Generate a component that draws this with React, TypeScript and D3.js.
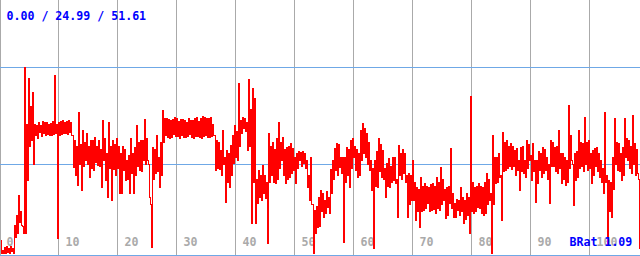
import React from "react";
import * as d3 from "d3";

// Bitrate samples, one reading every 2 px of the 640 px plot (the extreme seen in that column)
const seriesValues: number[] = [
  // 0-38
  4.1, 1.4, 2.2, 0.8, 1.9, 1.1, 1.9, 8.2, 11.0, 16.5, 8.2, 6.0, 51.6, 20.6, 48.6, 31.6, 44.7, 32.9, 35.7, 33.8,
  // 40-78
  35.7, 33.5, 36.5, 33.2, 35.9, 32.9, 36.8, 49.4, 4.7, 36.5, 33.2, 37.1, 33.5, 36.8, 33.8, 36.5, 24.2, 31.6, 19.2, 39.3,
  // 80-118
  17.8, 34.3, 26.1, 33.5, 21.4, 31.6, 23.3, 32.4, 24.7, 31.6, 18.7, 37.1, 20.6, 15.9, 36.5, 15.1, 31.6, 22.0, 32.1, 17.0,
  // 120-158
  17.0, 23.3, 20.6, 26.1, 17.0, 32.1, 17.0, 29.6, 35.7, 23.3, 31.6, 26.1, 37.3, 26.1, 15.9, 2.2, 29.6, 22.5, 32.9, 18.7,
  // 160-198
  22.0, 39.8, 32.9, 37.6, 32.1, 37.1, 33.2, 37.9, 32.6, 36.8, 32.9, 37.3, 32.4, 36.5, 33.2, 37.1, 32.1, 37.6, 32.6, 36.8,
  // 200-238
  32.1, 38.2, 32.9, 37.6, 32.4, 37.9, 32.9, 23.3, 31.6, 23.6, 28.8, 34.3, 14.5, 28.8, 18.7, 30.2, 25.3, 35.7, 26.1, 47.2,
  // 240-278
  37.1, 34.9, 37.6, 28.8, 48.3, 8.8, 45.8, 8.8, 14.3, 23.3, 15.1, 24.7, 15.6, 3.3, 33.5, 22.0, 31.0, 19.8, 32.1, 36.5,
  // 280-318
  26.1, 32.4, 19.8, 29.6, 21.4, 30.7, 23.3, 19.8, 28.0, 26.1, 28.3, 25.3, 28.0, 18.7, 15.1, 26.9, 0.5, 12.4, 7.7, 15.9,
  // 320-358
  17.8, 10.4, 15.1, 13.2, 15.9, 17.0, 26.1, 23.3, 30.7, 24.2, 26.9, 3.6, 26.9, 29.6, 18.7, 31.6, 26.9, 23.3, 21.4, 28.0,
  // 360-398
  34.3, 36.2, 26.9, 33.5, 23.3, 17.8, 1.9, 26.1, 18.7, 32.1, 21.4, 28.8, 15.9, 25.2, 18.7, 24.3, 26.9, 19.7, 10.4, 30.2,
  // 400-438
  28.0, 22.5, 28.0, 10.4, 22.5, 15.1, 26.1, 9.6, 18.7, 7.7, 21.4, 12.4, 19.7, 14.3, 18.7, 12.4, 19.7, 11.5, 21.4, 12.4,
  // 440-478
  24.2, 15.1, 10.1, 18.7, 14.3, 29.4, 10.4, 14.3, 12.4, 15.1, 18.7, 8.8, 15.1, 17.0, 6.0, 43.6, 11.5, 18.7, 13.2, 19.7,
  // 480-518
  11.5, 18.7, 11.5, 22.5, 15.1, 0.5, 32.9, 19.7, 26.9, 21.4, 9.6, 33.8, 23.3, 31.6, 24.3, 30.7, 24.3, 28.8, 23.3, 17.8,
  // 520-558
  29.6, 22.5, 26.1, 31.6, 26.1, 20.6, 30.7, 14.5, 19.7, 23.3, 21.4, 29.6, 23.3, 26.9, 14.3, 31.6, 24.3, 29.6, 22.5, 34.3,
  // 560-598
  19.7, 27.9, 19.2, 26.1, 41.2, 26.1, 13.7, 27.9, 21.5, 34.3, 24.3, 30.7, 37.9, 23.3, 31.6, 19.7, 28.8, 24.3, 29.7, 21.5,
  // 600-640
  26.1, 17.0, 39.3, 2.7, 20.6, 10.4, 26.9, 37.6, 23.3, 30.7, 20.6, 29.7, 37.6, 26.1, 31.6, 22.5, 38.4, 30.7, 22.5, 1.9, 0.5,
];

// The opposite extreme read in the same 2 px column
const seriesOther: number[] = [
  // 0-38
  0.5, 0.5, 0.5, 2.5, 0.5, 2.5, 0.5, 5.0, 6.0, 9.0, 12.0, 8.0, 6.0, 36.0, 30.0, 41.0, 25.0, 36.0, 32.0, 36.5,
  // 40-78
  32.8, 36.8, 33.0, 36.6, 33.0, 36.2, 33.3, 33.5, 36.0, 33.0, 36.8, 33.4, 36.6, 33.2, 37.0, 33.0, 33.0, 22.0, 30.0, 25.0,
  // 80-118
  30.5, 24.5, 31.0, 25.0, 30.0, 24.0, 31.5, 25.5, 30.0, 24.5, 29.0, 26.0, 32.0, 28.0, 24.0, 30.0, 23.5, 30.5, 24.0, 30.0,
  // 120-158
  28.0, 30.0, 29.0, 21.0, 27.5, 22.5, 28.0, 22.0, 24.5, 31.0, 23.0, 31.5, 25.0, 32.0, 25.0, 14.0, 21.0, 29.0, 23.0, 27.0,
  // 160-198
  31.0, 31.0, 37.5, 32.5, 37.2, 32.3, 37.4, 32.8, 37.5, 32.2, 37.3, 32.5, 37.0, 32.6, 37.6, 32.3, 37.0, 32.8, 37.8, 32.5,
  // 200-238
  37.5, 32.6, 37.8, 32.5, 37.7, 32.8, 36.0, 33.0, 24.0, 31.0, 22.0, 25.0, 27.0, 20.0, 28.0, 22.0, 33.0, 27.0, 34.0, 30.0,
  // 240-278
  33.5, 37.8, 34.0, 36.5, 30.0, 40.0, 20.0, 43.0, 21.0, 16.0, 22.0, 17.0, 22.0, 20.0, 20.0, 30.0, 20.0, 29.0, 21.0, 24.0,
  // 280-318
  31.0, 22.0, 29.0, 21.0, 30.0, 22.5, 29.5, 27.0, 24.0, 28.5, 24.5, 28.5, 24.0, 26.0, 22.0, 14.0, 14.0, 6.0, 13.5, 8.0,
  // 320-358
  12.0, 17.0, 11.5, 17.5, 11.5, 23.5, 21.0, 29.5, 22.0, 30.5, 22.5, 27.0, 20.0, 22.0, 29.0, 24.0, 32.0, 30.0, 29.0, 22.0,
  // 360-398
  26.0, 28.0, 35.0, 25.0, 31.0, 26.0, 24.0, 19.0, 28.5, 23.0, 30.5, 21.0, 24.0, 19.0, 26.5, 20.0, 20.5, 27.0, 21.0, 22.0,
  // 400-438
  21.0, 29.0, 20.0, 22.0, 14.0, 22.0, 15.0, 20.0, 12.0, 18.0, 12.0, 19.0, 13.0, 19.0, 12.0, 19.5, 12.5, 19.0, 13.0, 20.0,
  // 440-478
  14.0, 21.0, 18.0, 11.0, 19.0, 13.0, 17.0, 10.5, 15.5, 11.0, 12.0, 16.0, 10.0, 11.0, 16.0, 12.0, 20.0, 12.0, 19.0, 13.0,
  // 480-518
  19.0, 11.0, 20.0, 14.0, 21.0, 17.0, 14.0, 27.0, 20.0, 28.0, 22.0, 23.0, 31.0, 24.0, 30.0, 23.5, 30.0, 22.0, 29.5, 26.0,
  // 520-558
  23.0, 30.0, 21.5, 24.0, 30.5, 27.5, 23.0, 26.0, 26.0, 28.5, 28.0, 22.5, 29.0, 21.0, 25.0, 24.5, 31.0, 23.0, 30.0, 24.0,
  // 560-598
  28.0, 21.0, 27.0, 20.0, 24.0, 33.0, 25.0, 20.5, 28.5, 24.0, 31.0, 23.0, 25.0, 31.0, 24.0, 28.0, 22.0, 29.5, 23.0, 28.0,
  // 600-640
  20.0, 24.0, 20.0, 22.0, 12.0, 20.0, 18.0, 25.0, 31.0, 23.0, 28.0, 22.0, 27.0, 32.0, 24.0, 30.0, 25.0, 22.0, 29.0, 21.0, 1.0,
];

const xTicks: number[] = [0, 10, 20, 30, 40, 50, 60, 70, 80, 90, 100];
const xDomainMax = 108.6;
const minValue = 0.0;
const avgValue = 24.99;
const maxValue = 51.61;
const statsLabel = "0.00 / 24.99 / 51.61";
const ratioLabel = "BRat 1.09";

const W = 640;
const H = 256;

export default function App() {
  // Each column: high reading then low reading, 1 px apart
  const points: number[] = [];
  seriesValues.forEach((v, i) => {
    const o = seriesOther[i];
    points.push(Math.max(v, o), Math.min(v, o));
  });

  const xIdx = d3.scaleLinear().domain([0, points.length - 1]).range([0.5, points.length - 0.5]);
  const xAxis = d3.scaleLinear().domain([0, xDomainMax]).range([-0.5, -0.5 + 5.9 * xDomainMax]);
  const y = d3.scaleLinear().domain([0, maxValue]).range([255.5, 67.5]);

  const line = d3
    .line<number>()
    .x((_, i) => xIdx(i))
    .y((d) => Math.round(y(d) - 0.5) + 0.5)
    .curve(d3.curveStepAfter);

  const hLines = [minValue, avgValue, maxValue];
  const font = "'DejaVu Sans Mono', monospace";

  return (
    <svg
      width={W}
      height={H}
      style={{ position: "absolute", left: 0, top: 0, background: "#ffffff" }}
    >
      <rect x={0} y={0} width={W} height={H} fill="#ffffff" />
      {xTicks.map((t) => {
        const px = Math.max(0.5, Math.round(xAxis(t) - 0.5) + 0.5);
        return (
          <line
            key={"g" + t}
            x1={px}
            x2={px}
            y1={0}
            y2={H}
            stroke="#aaaaaa"
            strokeWidth={1}
            shapeRendering="crispEdges"
          />
        );
      })}
      {xTicks.map((t) => (
        <text
          key={"t" + t}
          x={xAxis(t) + 7}
          y={245.5}
          fill="#aaaaaa"
          fontFamily={font}
          fontWeight="bold"
          fontSize={11.6}
        >
          {String(t)}
        </text>
      ))}
      {hLines.map((v, i) => {
        const py = Math.round(y(v) - 0.5) + 0.5;
        return (
          <line
            key={"h" + i}
            x1={0}
            x2={W}
            y1={py}
            y2={py}
            stroke="#6fa8e6"
            strokeWidth={1}
            shapeRendering="crispEdges"
          />
        );
      })}
      <path
        d={line(points) || ""}
        fill="none"
        stroke="#ff0000"
        strokeWidth={1}
        shapeRendering="crispEdges"
      />
      <text x={6.5} y={19.5} fill="#0000ff" fontFamily={font} fontWeight="bold" fontSize={11.6}>
        {statsLabel}
      </text>
      <text x={569.5} y={245.5} fill="#0000ff" fontFamily={font} fontWeight="bold" fontSize={11.6}>
        {ratioLabel}
      </text>
    </svg>
  );
}
